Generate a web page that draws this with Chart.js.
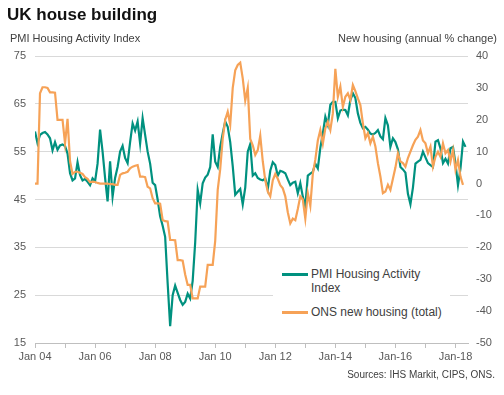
<!DOCTYPE html>
<html>
<head>
<meta charset="utf-8">
<script src="https://cdn.jsdelivr.net/npm/chart.js@4.4.1/dist/chart.umd.min.js"></script>
<style>
    body { margin: 0; background: #ffffff; font-family: "Liberation Sans", Arial, sans-serif; }
    #wrap { position: relative; width: 504px; height: 395px; overflow: hidden; }
    #chart { position: absolute; left: 0; top: 0; }
    .txt { position: absolute; white-space: nowrap; }
    #title { left: 7px; top: 5px; font-size: 17px; font-weight: bold; color: #111111; }
    #leftTitle { left: 10px; top: 32px; font-size: 11px; color: #404040; }
    #rightTitle { right: 7px; top: 32px; font-size: 11px; color: #404040; }
    #source { right: 9px; top: 369px; font-size: 10px; color: #404040; }
    #legend { position: absolute; left: 273px; top: 262px; width: 177px; height: 62px; background: #ffffff; }
    .swatch { position: absolute; left: 9px; width: 26px; height: 2.5px; }
    .lbl { position: absolute; left: 38px; font-size: 12px; line-height: 14px; color: #404040; }
</style>
</head>
<body>
<div id="wrap">
    <canvas id="chart" width="504" height="395"></canvas>
    <div class="txt" id="title">UK house building</div>
    <div class="txt" id="leftTitle">PMI Housing Activity Index</div>
    <div class="txt" id="rightTitle">New housing (annual % change)</div>
    <div id="legend">
        <div class="swatch" id="swPmi" style="top: 11px;"></div>
        <div class="lbl" style="top: 5px;">PMI Housing Activity<br>Index</div>
        <div class="swatch" id="swOns" style="top: 49px;"></div>
        <div class="lbl" style="top: 43px;">ONS new housing (total)</div>
    </div>
    <div class="txt" id="source">Sources: IHS Markit, CIPS, ONS.</div>
</div>
<script>
// monthly values from Jan 2004
const pmiHousing = [
    59.2, 56.8, 58.5, 58.9, 59.1, 58.6, 57.8, 55.3, 57.0, 55.4, 56.3, 56.5,
    56.2, 54.6, 50.5, 49.0, 49.4, 52.8, 50.1, 49.0, 49.3, 48.7, 48.0, 49.4,
    48.8, 52.5, 59.6, 55.0, 49.5, 44.6, 53.0, 45.6, 49.5, 51.8, 55.0, 56.2,
    53.7, 52.6, 57.0, 60.9, 59.4, 61.3, 56.7, 62.0, 58.5, 55.0, 52.5, 48.5,
    48.0, 45.0, 41.5, 39.5, 37.2, 27.5, 18.5, 25.0, 27.0, 25.5, 24.0, 23.0,
    23.6, 25.3, 24.3, 28.0, 36.0, 47.0, 44.2, 48.4, 49.6, 50.2, 51.8, 58.6,
    52.9, 51.8, 56.0, 58.8, 61.3, 60.2, 57.0, 52.0, 46.0, 46.6, 47.2, 44.0,
    47.5, 55.0, 56.6, 50.0, 50.5, 49.5, 49.2, 49.0, 49.4, 47.2, 51.0, 52.8,
    52.2, 50.0, 51.0, 50.8, 50.5, 49.2, 48.0, 48.5, 48.7, 46.3, 48.4, 45.6,
    43.5, 50.0, 50.4, 50.8, 52.5, 51.5, 55.8, 58.8, 62.3, 60.6, 64.8, 65.4,
    65.4, 62.0, 63.6, 63.8, 63.7, 62.6, 65.8, 67.2, 66.2, 63.0, 61.0, 59.9,
    60.2, 59.6, 58.8, 58.6, 58.9, 59.5, 58.2, 57.6, 62.0, 60.5, 56.0, 57.8,
    57.0, 55.5, 51.8, 51.3, 50.6, 46.2, 44.0, 47.5, 52.5, 52.9, 53.3, 55.0,
    53.8, 52.6, 52.2, 51.8, 57.1, 57.4, 55.7, 52.6, 53.5, 52.5, 55.7, 56.0,
    52.5, 48.0, 51.5, 57.1, 56.0
];

const onsHousing = [
    0.0, 0.0, 28.3, 30.2, 30.2, 30.0, 28.6, 28.6, 28.5, 20.0, 20.0, 20.0,
    12.6, 20.3, 7.0, 3.0, 3.7, 3.7, 3.4, 3.0, 2.0, 1.5, 0.4, 0.6,
    0.5, 0.2, 0.0, 0.0, 0.0, 0.0, -0.2, -0.2, -0.4, -0.4, 2.7, 3.2,
    3.4, 3.7, 4.8, 5.3, 5.6, 5.8, 2.2, 2.2, 2.0, -1.0, -1.5, -4.6,
    -6.2, -6.2, -6.3, -11.4, -11.8, -11.9, -17.7, -17.7, -17.8, -24.0, -24.0, -24.2,
    -28.5, -31.8, -31.8, -36.0, -36.0, -36.0, -32.3, -32.3, -32.3, -25.5, -25.5, -25.5,
    -18.0, -2.0, 4.5, 14.0, 20.0, 22.5, 18.5, 30.0, 35.5, 37.2, 37.9, 33.0,
    26.0, 30.0, 14.0, 12.0, 9.0, 10.5, 15.0, 7.0, 1.0, -2.5, -4.0, 1.0,
    3.0, 1.5, -0.5, -1.5, -4.0, -9.0, -12.5, -11.0, -11.5, -8.0, -4.0, -5.0,
    -11.0, -3.0, -7.0, 3.0, 7.5, 13.5, 16.8, 12.5, 17.3, 19.4, 16.8, 22.0,
    36.0, 27.2, 30.4, 24.0, 27.2, 28.3, 26.2, 30.9, 29.0, 26.7, 24.6, 18.9,
    14.2, 15.8, 12.6, 14.7, 11.6, 6.4, 2.2, -3.0, -2.5, -0.4, -2.0, 1.5,
    5.0, 9.5, 6.9, 6.4, 5.3, 8.0, 10.0, 12.0, 13.7, 14.7, 16.8, 13.5,
    12.6, 9.5, 11.6, 5.3, 8.4, 10.0, 8.4, 12.6, 9.5, 10.5, 6.9, 10.5,
    4.3, 7.4, 2.2, -0.4
];

// one label every 24 months
const xTickLabels = ['Jan 04', 'Jan 06', 'Jan 08', 'Jan 10', 'Jan 12', 'Jan-14', 'Jan-16', 'Jan-18'];

const teal = '#00917f';
const orange = '#f6a257';
const fontFamily = '"Liberation Sans", Arial, sans-serif';

document.getElementById('swPmi').style.background = teal;
document.getElementById('swOns').style.background = orange;

const toPoints = arr => arr.map((v, i) => ({ x: i, y: v }));

new Chart(document.getElementById('chart'), {
    type: 'line',
    data: {
        datasets: [
            {
                label: 'PMI Housing Activity Index',
                data: toPoints(pmiHousing),
                borderColor: teal,
                borderWidth: 2.2,
                pointRadius: 0,
                tension: 0,
                yAxisID: 'y',
                order: 1
            },
            {
                label: 'ONS new housing (total)',
                data: toPoints(onsHousing),
                borderColor: orange,
                borderWidth: 2.2,
                pointRadius: 0,
                tension: 0,
                yAxisID: 'y1',
                order: 0
            }
        ]
    },
    options: {
        responsive: false,
        animation: false,
        layout: { padding: { top: 56, left: 0, right: 0, bottom: 0 } },
        plugins: {
            legend: { display: false },
            tooltip: { enabled: false }
        },
        scales: {
            x: {
                type: 'linear',
                min: 0,
                max: 173,
                afterFit: scale => { scale.height = 52; },
                grid: { drawOnChartArea: false, drawTicks: true, tickLength: 5, color: '#bfbfbf' },
                border: { display: true, color: '#bfbfbf' },
                ticks: {
                    stepSize: 12,
                    includeBounds: false,
                    autoSkip: false,
                    maxRotation: 0,
                    padding: 2,
                    color: '#595959',
                    font: { family: fontFamily, size: 11 },
                    callback: value => value % 24 === 0 ? xTickLabels[value / 24] : ''
                }
            },
            y: {
                position: 'left',
                min: 15,
                max: 75,
                afterFit: scale => { scale.width = 35; },
                grid: { color: '#d9d9d9', drawTicks: false },
                border: { display: false },
                ticks: {
                    stepSize: 10,
                    padding: 9,
                    color: '#595959',
                    font: { family: fontFamily, size: 11 }
                }
            },
            y1: {
                position: 'right',
                min: -50,
                max: 40,
                afterFit: scale => { scale.width = 36; },
                grid: { drawOnChartArea: false, drawTicks: false },
                border: { display: false },
                ticks: {
                    stepSize: 10,
                    padding: 8,
                    color: '#595959',
                    font: { family: fontFamily, size: 11 }
                }
            }
        }
    }
});
</script>
</body>
</html>
